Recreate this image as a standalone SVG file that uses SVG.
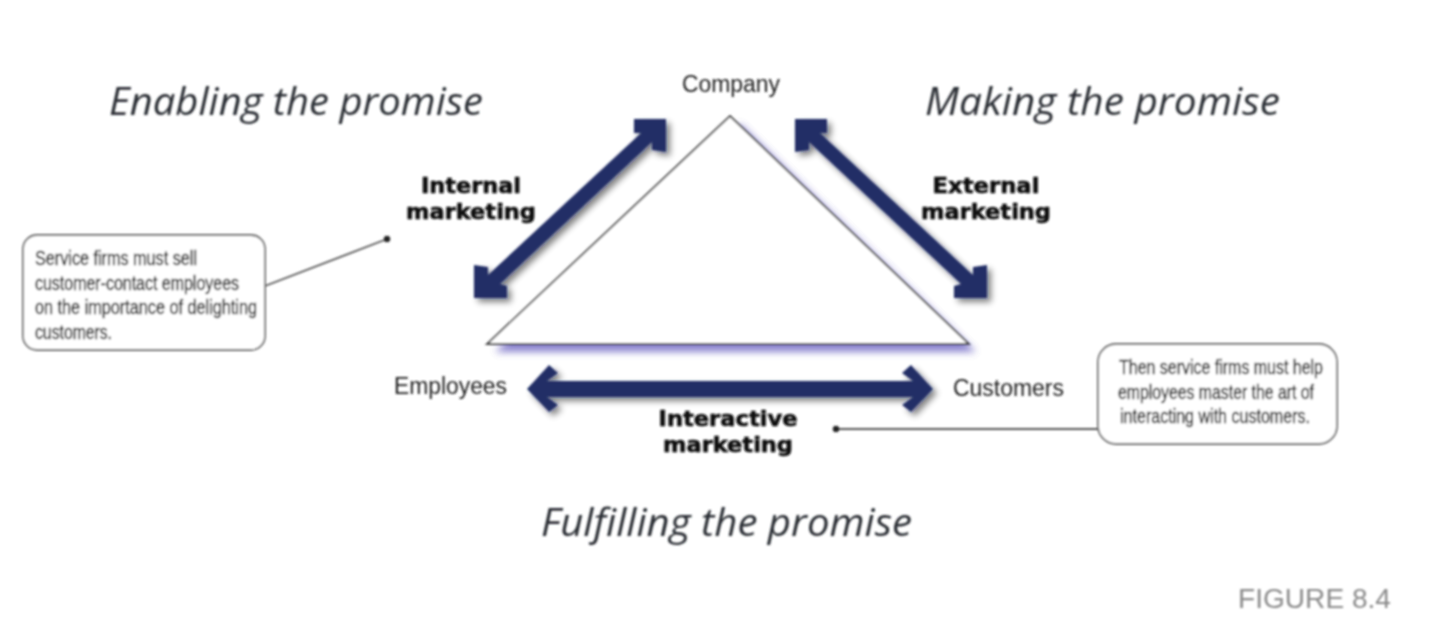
<svg xmlns="http://www.w3.org/2000/svg" width="1440" height="622" viewBox="0 0 1440 622">
<defs>
<filter id="soft" x="-2%" y="-2%" width="104%" height="104%"><feGaussianBlur stdDeviation="0.8"/></filter>
<filter id="shadow" x="-20%" y="-20%" width="140%" height="140%"><feGaussianBlur in="SourceAlpha" stdDeviation="3"/><feOffset dx="4" dy="4"/><feComponentTransfer><feFuncA type="linear" slope="0.5"/></feComponentTransfer><feMerge><feMergeNode/><feMergeNode in="SourceGraphic"/></feMerge></filter>
<filter id="glow" x="-10%" y="-10%" width="120%" height="125%"><feGaussianBlur stdDeviation="3.5"/></filter>
</defs>
<style>
.head{font-family:"Open Sans","Liberation Sans",sans-serif;font-style:italic;font-size:39px;fill:#2c2f34}
.node{font-family:"Liberation Sans",Arial,sans-serif;font-size:23px;fill:#222}
.lab{font-family:"DejaVu Sans",sans-serif;font-weight:bold;font-size:22px;fill:#111;stroke:#111;stroke-width:.6;text-anchor:middle}
.note{font-family:"Liberation Sans",Arial,sans-serif;font-size:20px;fill:#1c1c1c;stroke:#1c1c1c;stroke-width:.35}
.box{fill:#fff;stroke:#666;stroke-width:1.8}
.arrow{fill:#232f66;filter:url(#shadow)}
.leader{fill:none;stroke:#555;stroke-width:1.8}
.dot{fill:#222}
</style>
<rect width="1440" height="622" fill="#fff"/>
<g filter="url(#soft)">
<g id="triangle">
<path d="M740 124L976 352H495Z" fill="#6f68c4" filter="url(#glow)" opacity="0.8"/>
<path d="M730 116L969 344H487Z" fill="#fff" stroke="#444" stroke-width="1.800"/>
</g>
<g id="connectors">
<path class="arrow" d="M666 119V152L652 150V142L500 284L507 286V298H474V265L488 267V275L641 133H634V119Z"/>
<path class="arrow" d="M795 119V152L809 150V142L961 284L954 286V298H987V265L973 267V275L820 133H827V119Z"/>
<path class="arrow" d="M527 389L549 365L558 373L547 381H913L902 373L911 365L933 389L911 412L902 405L913 397H547L558 405L549 412Z"/>
<path class="leader" d="M265 286L387 239M836 429H1098"/>
<circle class="dot" cx="387" cy="239" r="3.200"/>
<circle class="dot" cx="836" cy="429" r="3.200"/>
</g>
<g id="head-enabling"><text class="head" x="109" y="115" textLength="374" lengthAdjust="spacingAndGlyphs">Enabling the promise</text></g>
<g id="head-making"><text class="head" x="925" y="115" textLength="355" lengthAdjust="spacingAndGlyphs">Making the promise</text></g>
<g id="head-fulfilling"><text class="head" x="541" y="536" textLength="371" lengthAdjust="spacingAndGlyphs">Fulfilling the promise</text></g>
<g id="company"><text class="node" x="682" y="92" textLength="98" lengthAdjust="spacingAndGlyphs">Company</text></g>
<g id="employees"><text class="node" x="394" y="394" textLength="113" lengthAdjust="spacingAndGlyphs">Employees</text></g>
<g id="customers"><text class="node" x="953" y="396" textLength="111" lengthAdjust="spacingAndGlyphs">Customers</text></g>
<g id="internal"><text class="lab" x="471" y="193" textLength="100" lengthAdjust="spacingAndGlyphs">Internal</text><text class="lab" x="471" y="219" textLength="130" lengthAdjust="spacingAndGlyphs">marketing</text></g>
<g id="external"><text class="lab" x="986" y="193" textLength="107" lengthAdjust="spacingAndGlyphs">External</text><text class="lab" x="986" y="219" textLength="130" lengthAdjust="spacingAndGlyphs">marketing</text></g>
<g id="interactive"><text class="lab" x="728" y="426" textLength="139" lengthAdjust="spacingAndGlyphs">Interactive</text><text class="lab" x="728" y="452" textLength="130" lengthAdjust="spacingAndGlyphs">marketing</text></g>
<g id="note-left">
<rect class="box" x="23" y="235" width="242" height="115" rx="14"/>
<text class="note" x="35" y="265" textLength="162" lengthAdjust="spacingAndGlyphs">Service firms must sell</text>
<text class="note" x="35" y="290" textLength="204" lengthAdjust="spacingAndGlyphs">customer-contact employees</text>
<text class="note" x="35" y="314" textLength="222" lengthAdjust="spacingAndGlyphs">on the importance of delighting</text>
<text class="note" x="35" y="339" textLength="77" lengthAdjust="spacingAndGlyphs">customers.</text>
</g>
<g id="note-right">
<rect class="box" x="1098" y="344" width="239" height="100" rx="18"/>
<text class="note" x="1119" y="374" textLength="204" lengthAdjust="spacingAndGlyphs">Then service firms must help</text>
<text class="note" x="1118" y="399" textLength="196" lengthAdjust="spacingAndGlyphs">employees master the art of</text>
<text class="note" x="1120" y="423" textLength="190" lengthAdjust="spacingAndGlyphs">interacting with customers.</text>
</g>
<g id="figure"><text x="1238" y="608" font-family="Liberation Sans, Arial, sans-serif" font-size="27" fill="#8a8a8a" textLength="153" lengthAdjust="spacingAndGlyphs">FIGURE 8.4</text></g>
</g>
</svg>
